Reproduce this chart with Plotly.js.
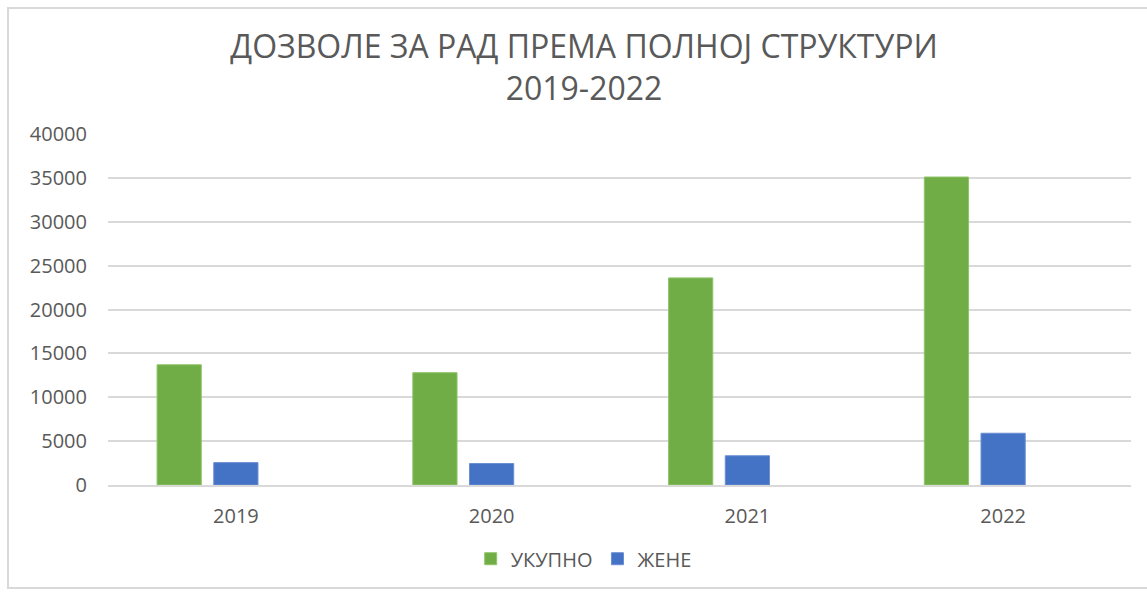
<!DOCTYPE html>
<html>
<head>
<meta charset="utf-8">
<script src="https://cdn.plot.ly/plotly-3.0.1.min.js"></script>
<style>
  html, body { margin: 0; padding: 0; background: #ffffff; }
  #wrap { position: relative; width: 1147px; height: 592px; overflow: hidden; }
  #chart { position: absolute; left: 0; top: 0; width: 1147px; height: 592px; }
  #frame { position: absolute; left: 7px; top: 7px; width: 1160px; height: 582px;
           border: 2px solid #d9d9d9; box-sizing: border-box; pointer-events: none; }
</style>
</head>
<body>
<div id="wrap">
  <div id="chart"></div>
  <div id="frame"></div>
</div>
<script>
const years = ['2019', '2020', '2021', '2022'];
const ukupno = [13700, 12800, 23600, 35100];
const zene = [2550, 2450, 3330, 5900];
const hidden = [null, null, null, null];
const yTicks = [0, 5000, 10000, 15000, 20000, 25000, 30000, 35000, 40000];

const font = "'Open Sans', 'Noto Sans', sans-serif";

const data = [
  { type: 'bar', name: 'УКУПНО', x: years, y: ukupno,
    marker: { color: '#70AD47', line: { color: '#8fc46a', width: 1 } }, hoverinfo: 'x+y' },
  { type: 'bar', name: 'ЖЕНЕ', x: years, y: zene,
    marker: { color: '#4472C4', line: { color: '#6a8fd3', width: 1 } }, hoverinfo: 'x+y' },
  { type: 'bar', name: '', x: years, y: hidden, showlegend: false,
    marker: { color: '#A5A5A5' }, hoverinfo: 'skip' }
];

const layout = {
  width: 1147, height: 592,
  paper_bgcolor: '#ffffff', plot_bgcolor: '#ffffff',
  margin: { l: 108, r: 16, t: 134, b: 107 },
  title: {
    text: 'ДОЗВОЛЕ ЗА РАД ПРЕМА ПОЛНОЈ СТРУКТУРИ<br>2019-2022',
    font: { family: font, size: 32, color: '#595959' },
    x: 584 / 1147, xanchor: 'center', xref: 'container',
    y: 1 - 58 / 592, yanchor: 'middle', yref: 'container'
  },
  barmode: 'group', bargap: 0.335, bargroupgap: 0.22,
  xaxis: {
    type: 'category',
    tickfont: { family: font, size: 20, color: '#595959' },
    showgrid: false, showline: true, linecolor: '#d9d9d9', linewidth: 2,
    ticks: '', ticklabelstandoff: 12, zeroline: false
  },
  yaxis: {
    range: [0, 40000], tickvals: yTicks, ticktext: yTicks.map(String),
    tickfont: { family: font, size: 20, color: '#595959' },
    showgrid: true, gridcolor: '#d9d9d9', gridwidth: 2,
    zeroline: false, showline: false, ticks: '', ticklabelstandoff: 20
  },
  legend: {
    orientation: 'h', x: 0.465, xanchor: 'center', y: -0.21, yanchor: 'middle',
    font: { family: font, size: 20, color: '#595959' },
    itemwidth: 30, traceorder: 'normal'
  },
  showlegend: true
};

Plotly.newPlot('chart', data, layout, { displayModeBar: false, staticPlot: true });
</script>
</body>
</html>
